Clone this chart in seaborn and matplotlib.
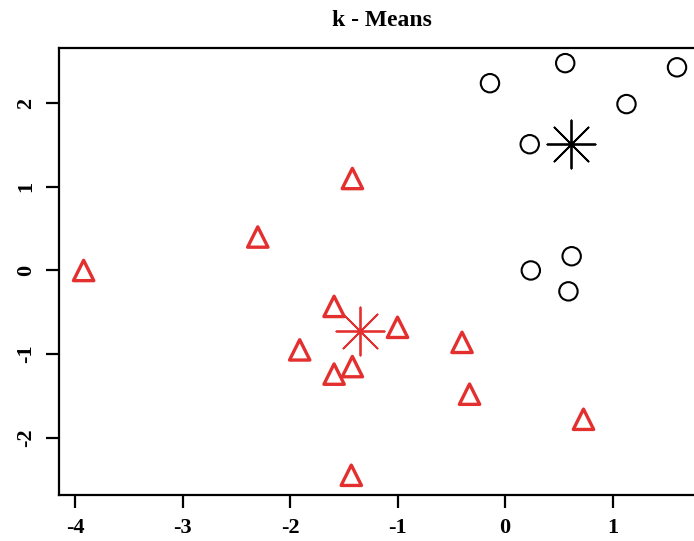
import seaborn as sns
import matplotlib.pyplot as plt
import pandas as pd

# cluster 1 (black circles) and cluster 2 (red triangles)
c1_x = [-0.14, 0.56, 1.60, 1.13, 0.23, 0.24, 0.62, 0.59]
c1_y = [2.24, 2.48, 2.43, 1.99, 1.51, 0.00, 0.17, -0.25]
c2_x = [-3.92, -2.30, -1.42, -1.59, -1.00, -1.91, -1.59, -1.42, -0.40, -0.33, 0.73, -1.43]
c2_y = [0.00, 0.40, 1.10, -0.43, -0.68, -0.95, -1.24, -1.15, -0.86, -1.48, -1.78, -2.45]
centers_x = [0.61, -1.35]
centers_y = [1.51, -0.72]
center_colors = ["black", "#e3302f"]

x_ticks = [-4, -3, -2, -1, 0, 1]
y_ticks = [-2, -1, 0, 1, 2]

df1 = pd.DataFrame({"x": c1_x, "y": c1_y})
df2 = pd.DataFrame({"x": c2_x, "y": c2_y})

sns.set_style("ticks")
plt.rcParams["font.family"] = ["Liberation Serif", "DejaVu Serif"]
plt.rcParams["font.weight"] = "bold"
plt.rcParams["text.color"] = "black"

fig = plt.figure(figsize=(6.94, 5.41), dpi=100)
ax = fig.add_axes([59 / 694, 46 / 541, 1 - 59 / 694, 447 / 541])

red = "#e3302f"
sns.scatterplot(data=df1, x="x", y="y", ax=ax, marker="o", s=175,
                facecolors="none", edgecolors="black", linewidths=1.5)
sns.scatterplot(data=df2, x="x", y="y", ax=ax, marker="^", s=215,
                facecolors="none", edgecolors=red, linewidths=2.4)
for cx, cy, col in zip(centers_x, centers_y, center_colors):
    sns.scatterplot(x=[cx], y=[cy], ax=ax, marker=(8, 2, 0), s=1200,
                    color=col, linewidth=1.3)

ax.set_xlim(-4.149, 1.758)
ax.set_ylim(-2.686, 2.661)
ax.set_xticks(x_ticks)
ax.set_yticks(y_ticks)
ax.set_xticklabels([str(t) for t in x_ticks], fontsize=16, fontweight="bold")
ax.set_yticklabels([str(t) for t in y_ticks], fontsize=16, fontweight="bold",
                   rotation=90, va="center")
ax.set_xlabel("")
ax.set_ylabel("")
ax.tick_params(direction="out", length=9.5, width=1.6, pad=7, colors="black")
for side in ["left", "bottom", "top"]:
    ax.spines[side].set_linewidth(1.6)
    ax.spines[side].set_color("black")
ax.spines["right"].set_visible(False)

fig.text(382 / 694, 1 - 21 / 541, "k - Means", ha="center", va="center",
         fontsize=17, fontweight="bold", color="black")

fig.savefig("out.png", dpi=100)
